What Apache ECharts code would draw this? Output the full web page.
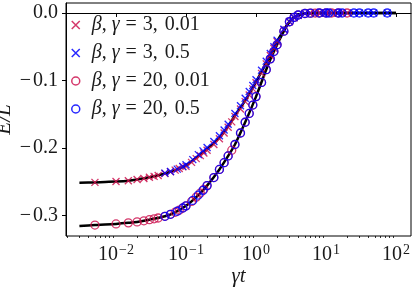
<!DOCTYPE html>
<html>
<head>
<meta charset="utf-8">
<script src="https://cdn.jsdelivr.net/npm/echarts@6/dist/echarts.min.js"></script>
<style>html,body{margin:0;padding:0;background:#fff;}#c{width:415px;height:289px;}</style>
</head>
<body>
<div id="c"></div>
<script>
// ---- data ----
const lineX = [0.003,0.005,0.007,0.01,0.015,0.02,0.03,0.05,0.07,0.1,0.15,0.2,0.3,0.4,0.5,0.7,1.0,1.5,2,3,4,5,7,10,20,50,100];
const lineBeta3 = [-0.2518,-0.2512,-0.2506,-0.2500,-0.2488,-0.2470,-0.2437,-0.2380,-0.2330,-0.2260,-0.2120,-0.2020,-0.1850,-0.1680,-0.1520,-0.1300,-0.1020,-0.0680,-0.0420,-0.0130,-0.0035,-0.0008,-0.0001,0,0,0,0];
const lineBeta20 = [-0.3160,-0.3145,-0.3138,-0.3128,-0.3112,-0.3098,-0.3065,-0.3015,-0.2955,-0.2860,-0.2700,-0.2560,-0.2320,-0.2120,-0.1950,-0.1620,-0.1240,-0.0760,-0.0470,-0.0130,-0.0030,-0.0008,-0.0001,0,0,0,0];

const xRed = [0.005,0.01,0.015,0.02,0.025,0.03,0.035,0.04,0.05,0.06,0.07,0.08,0.09,0.1,0.12,0.14,0.16,0.18,0.2,0.25,0.3,0.35,0.4,0.45,0.5,0.6,0.7,0.8,0.9,1.0,1.2,1.4,1.6,1.8,2.0,2.5,3.0,3.5,4.0,5,6,7,8,10,12,15,20];
const crossRed = [-0.2512,-0.2500,-0.2488,-0.2470,-0.2455,-0.2437,-0.2423,-0.2410,-0.2380,-0.2355,-0.2330,-0.2305,-0.2282,-0.2275,-0.2215,-0.2160,-0.2115,-0.2075,-0.2035,-0.1950,-0.1865,-0.1780,-0.1695,-0.1615,-0.1535,-0.1425,-0.1315,-0.1215,-0.1125,-0.1035,-0.0895,-0.0755,-0.0630,-0.0525,-0.0425,-0.0250,-0.0130,-0.0070,-0.0035,-0.0008,-0.0003,-0.0001,0,0,0,0,0];
const circRed = [-0.3145,-0.3128,-0.3112,-0.3098,-0.3082,-0.3065,-0.3052,-0.3040,-0.3015,-0.2985,-0.2955,-0.2925,-0.2892,-0.2860,-0.2795,-0.2730,-0.2670,-0.2615,-0.2560,-0.2440,-0.2320,-0.2220,-0.2120,-0.2035,-0.1950,-0.1780,-0.1620,-0.1490,-0.1365,-0.1240,-0.1030,-0.0840,-0.0680,-0.0570,-0.0470,-0.0270,-0.0130,-0.0065,-0.0030,-0.0008,-0.0003,-0.0001,0,0,0,0,0];

const xBlue = [0.05,0.06,0.075,0.09,0.1,0.125,0.15,0.175,0.2,0.25,0.3,0.35,0.4,0.5,0.6,0.7,0.8,0.9,1.0,1.2,1.4,1.6,1.8,2.0,2.5,3.0,3.5,4.0,5,6,8,10,11,15,17,25,30,40,48,75];
const crossBlue = [-0.2375,-0.2350,-0.2315,-0.2275,-0.2250,-0.2175,-0.2100,-0.2045,-0.1995,-0.1905,-0.1820,-0.1735,-0.1650,-0.1490,-0.1375,-0.1265,-0.1165,-0.1075,-0.0990,-0.0850,-0.0715,-0.0600,-0.0500,-0.0405,-0.0240,-0.0125,-0.0068,-0.0034,-0.0008,-0.0003,0,0,0,0,0,0,0,0,0,0];
const circBlue = [-0.3015,-0.2985,-0.2940,-0.2892,-0.2860,-0.2780,-0.2700,-0.2630,-0.2560,-0.2440,-0.2320,-0.2220,-0.2120,-0.1950,-0.1780,-0.1620,-0.1490,-0.1365,-0.1240,-0.1030,-0.0840,-0.0680,-0.0570,-0.0470,-0.0270,-0.0130,-0.0065,-0.0030,-0.0008,-0.0003,0,0,0,0,0,0,0,0,0,0];

const seriesNames = ['β, γ = 3, 0.01','β, γ = 3, 0.5','β, γ = 20, 0.01','β, γ = 20, 0.5'];
const xTickValues = [0.01,0.1,1,10,100];
const xTickExps = ['−2','−1','0','1','2'];
const xMinorTicks = [0.002,0.003,0.004,0.005,0.006,0.007,0.008,0.009,0.02,0.03,0.04,0.05,0.06,0.07,0.08,0.09,0.2,0.3,0.4,0.5,0.6,0.7,0.8,0.9,2,3,4,5,6,7,8,9,20,30,40,50,60,70,80,90];
const yTickValues = [-0.3,-0.2,-0.1,0];
const yTickLabels = ['−0.3','−0.2','−0.1','0.0'];

// ---- chart ----
const RED = '#CC1450', BLUE = '#0000FF';
const FONT = 'Liberation Serif';
const TXT = '#1a1a1a';
const crossPath = 'path://M0,0L10,10M10,0L0,10';
const zip = (xs, ys) => xs.map((x, i) => [x, ys[i]]);

const chart = echarts.init(document.getElementById('c'), null, {renderer: 'canvas'});
const xMin = 0.00193, xMax = 163.7;

function crossSeries(name, xs, ys, color) {
  return {name, type: 'scatter', xAxisIndex: 0, data: zip(xs, ys), symbol: crossPath, symbolSize: 7, symbolKeepAspect: true,
    itemStyle: {color: 'transparent', borderColor: color, borderWidth: 1.3, opacity: 0.85}, z: 3, silent: true};
}
function circSeries(name, xs, ys, color) {
  return {name, type: 'scatter', xAxisIndex: 0, data: zip(xs, ys), symbol: 'circle', symbolSize: 8,
    itemStyle: {color: 'transparent', borderColor: color, borderWidth: 1.3, opacity: 0.85}, z: 3, silent: true};
}
const minusRich = s => s.replace('−', '{m|−}');

chart.setOption({
  animation: false,
  grid: {left: 66, right: 4, top: 3, bottom: 53, outerBoundsMode: 'none', containLabel: false,
    show: true, borderColor: '#000', borderWidth: 1, backgroundColor: 'transparent'},
  legend: {
    orient: 'vertical', left: 66, top: 10, itemWidth: 22, itemHeight: 8, itemGap: 8,
    data: [
      {name: seriesNames[0], icon: crossPath, itemStyle: {color: 'transparent', borderColor: RED, borderWidth: 1.5}},
      {name: seriesNames[1], icon: crossPath, itemStyle: {color: 'transparent', borderColor: BLUE, borderWidth: 1.5}},
      {name: seriesNames[2], icon: 'circle', itemStyle: {color: 'transparent', borderColor: RED, borderWidth: 1.5}},
      {name: seriesNames[3], icon: 'circle', itemStyle: {color: 'transparent', borderColor: BLUE, borderWidth: 1.5}}
    ],
    formatter: n => n.replace('β', '{i|β}').replace('γ', '{i|γ}').replace(' = ', '{e|=}').replace(/, (\d)/g, ',{sp| }$1'),
    textStyle: {fontFamily: FONT, fontSize: 20, color: TXT, lineHeight: 20,
      rich: {i: {fontFamily: FONT, fontSize: 20, fontStyle: 'italic', color: TXT},
             e: {fontFamily: FONT, fontSize: 20, color: TXT, padding: [0, 6, 0, 6]},
             sp: {fontFamily: FONT, fontSize: 20, color: TXT, padding: [0, 1, 0, 1]}}},
    selectedMode: false
  },
  xAxis: [
    {type: 'log', logBase: 10, min: xMin, max: xMax, position: 'bottom',
      name: 'γt', nameLocation: 'middle', nameGap: 30, nameMoveOverlap: false,
      nameTextStyle: {fontFamily: FONT, fontSize: 21, fontStyle: 'italic', color: TXT},
      axisLine: {show: true, lineStyle: {color: '#000', width: 1}},
      axisTick: {show: true, inside: false, length: 4, lineStyle: {color: '#000', width: 1}, customValues: xTickValues},
      minorTick: {show: false},
      splitLine: {show: false},
      axisLabel: {customValues: xTickValues, margin: 7, color: TXT,
        formatter: v => { const i = xTickValues.findIndex(t => Math.abs(Math.log10(t) - Math.log10(v)) < 1e-6); return '{b|10}{s|' + (i >= 0 ? xTickExps[i] : '') + '}'; },
        rich: {b: {fontFamily: FONT, fontSize: 20, color: TXT}, s: {fontFamily: FONT, fontSize: 14, color: TXT, padding: [0, 0, 10, 1]}}}},
    {type: 'log', logBase: 10, min: xMin, max: xMax, position: 'bottom',
      axisLine: {show: false},
      axisTick: {show: true, inside: false, length: 2, lineStyle: {color: '#000', width: 0.8}, customValues: xMinorTicks},
      axisLabel: {show: false}, splitLine: {show: false}}
  ],
  yAxis: {type: 'value', min: -0.3307, max: 0.0148,
    name: 'E/L', nameLocation: 'middle', nameGap: 51, nameRotate: 90, nameMoveOverlap: false,
    nameTextStyle: {fontFamily: FONT, fontSize: 21, fontStyle: 'italic', color: TXT},
    axisLine: {show: true, lineStyle: {color: '#000', width: 1}},
    axisTick: {show: true, inside: false, length: 4, lineStyle: {color: '#000', width: 1}, customValues: yTickValues},
    splitLine: {show: false},
    axisLabel: {customValues: yTickValues, margin: 8, fontFamily: FONT, fontSize: 20, color: TXT,
      formatter: v => { const i = yTickValues.findIndex(t => Math.abs(t - v) < 1e-9); return i >= 0 ? minusRich(yTickLabels[i]) : ''; },
      rich: {m: {fontFamily: FONT, fontSize: 20, color: TXT, padding: [0, 2, 0, 2]}}}},
  series: [
    {type: 'line', xAxisIndex: 0, data: zip(lineX, lineBeta3), showSymbol: false, smooth: 0.3, lineStyle: {color: '#000', width: 2.5}, z: 1, silent: true},
    {type: 'line', xAxisIndex: 0, data: zip(lineX, lineBeta20), showSymbol: false, smooth: 0.3, lineStyle: {color: '#000', width: 2.5}, z: 1, silent: true},
    crossSeries(seriesNames[0], xRed, crossRed, RED),
    crossSeries(seriesNames[1], xBlue, crossBlue, BLUE),
    circSeries(seriesNames[2], xRed, circRed, RED),
    circSeries(seriesNames[3], xBlue, circBlue, BLUE)
  ]
});
</script>
</body>
</html>
